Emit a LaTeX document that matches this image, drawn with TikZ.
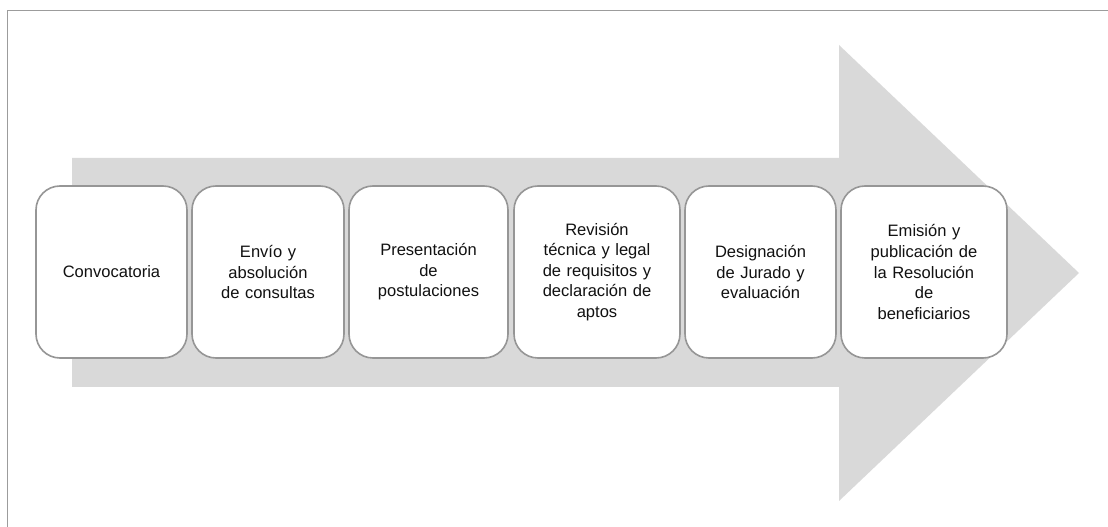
\documentclass[tikz,border=0pt]{standalone}
\usepackage{fontspec}
\setmainfont{Liberation Sans}
\definecolor{arrowgray}{HTML}{D9D9D9}
\definecolor{boxline}{HTML}{969696}
\definecolor{framegray}{HTML}{9C9C9C}
\definecolor{txt}{HTML}{111111}
\begin{document}
\begin{tikzpicture}[x=0.75pt,y=-0.75pt,
  stagebox/.style={draw=boxline, line width=1.2pt, fill=white, rounded corners=18pt,
    inner sep=0pt, align=center, text=txt, minimum height=172*0.75pt,
    font=\fontsize{12.4pt}{15.4pt}\selectfont},
  bigarrow/.style={fill=arrowgray, draw=none}]
\useasboundingbox (0,0) rectangle (1108,527);
\fill[white] (0,0) rectangle (1108,527);
% frame
\draw[framegray, line width=1.3pt] (7.5,527) -- (7.5,10.5) -- (1108,10.5);
% big arrow
\path[bigarrow] (72,158) -- (839,158) -- (839,45) -- (1079,273) -- (839,501) -- (839,387) -- (72,387) -- cycle;
% stages
\node[stagebox, text width=140*0.75pt, minimum width=151*0.75pt] (s1) at (111.5,272) {Convocatoria};
\node[stagebox, text width=140*0.75pt, minimum width=152*0.75pt] (s2) at (268,272) {Env\'io y\\absoluci\'on\\de consultas};
\node[stagebox, text width=148*0.75pt, minimum width=159*0.75pt] (s3) at (428.5,272) {Presentaci\'on\\de\\postulaciones};
\node[stagebox, text width=155*0.75pt, minimum width=166*0.75pt] (s4) at (597,272) {Revisi\'on\\t\'ecnica y legal\\de requisitos y\\declaraci\'on de\\aptos};
\node[stagebox, text width=140*0.75pt, minimum width=151*0.75pt] (s5) at (760.5,272) {Designaci\'on\\de Jurado y\\evaluaci\'on};
\node[stagebox, text width=155*0.75pt, minimum width=166*0.75pt] (s6) at (924,272) {Emisi\'on y\\publicaci\'on de\\la Resoluci\'on\\de\\beneficiarios};
\end{tikzpicture}
\end{document}
